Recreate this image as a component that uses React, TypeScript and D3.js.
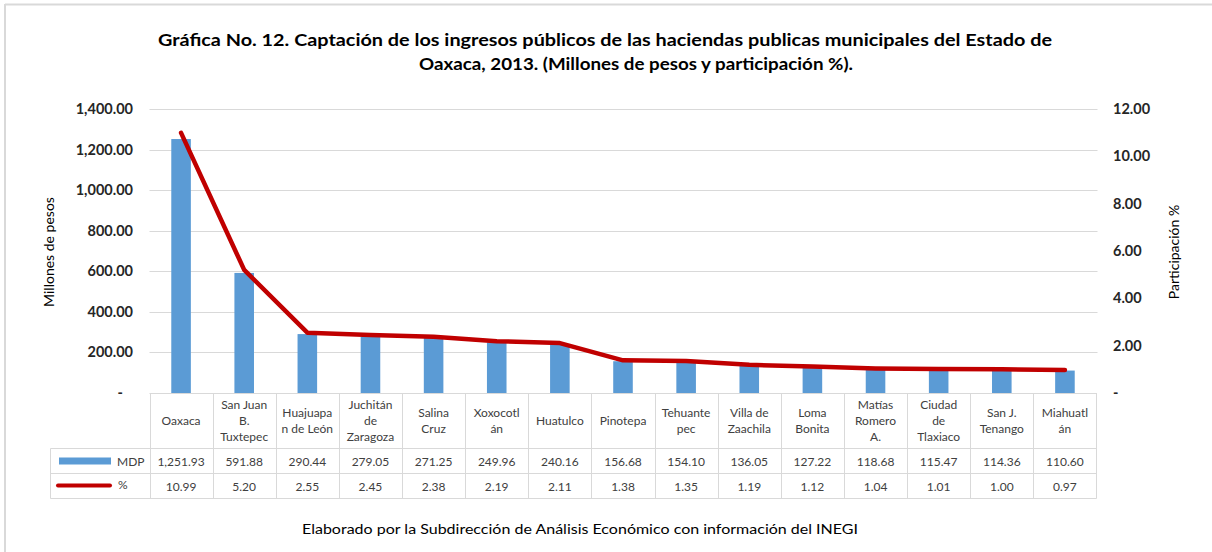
import React from 'react'
import { scaleBand, scaleLinear, line, format } from 'd3'

// datos
const municipios = [
    'Oaxaca', 'San Juan B. Tuxtepec', 'Huajuapan de León', 'Juchitán de Zaragoza', 'Salina Cruz',
    'Xoxocotlán', 'Huatulco', 'Pinotepa', 'Tehuantepec', 'Villa de Zaachila',
    'Loma Bonita', 'Matías Romero A.', 'Ciudad de Tlaxiaco', 'San J. Tenango', 'Miahuatlán',
]
// como se ve partido en las celdas de la tabla
const etiquetas = [
    ['Oaxaca'], ['San Juan', 'B.', 'Tuxtepec'], ['Huajuapa', 'n de León'], ['Juchitán', 'de', 'Zaragoza'],
    ['Salina', 'Cruz'], ['Xoxocotl', 'án'], ['Huatulco'], ['Pinotepa'], ['Tehuante', 'pec'],
    ['Villa de', 'Zaachila'], ['Loma', 'Bonita'], ['Matías', 'Romero', 'A.'], ['Ciudad', 'de', 'Tlaxiaco'],
    ['San J.', 'Tenango'], ['Miahuatl', 'án'],
]
const mdp = [1251.93, 591.88, 290.44, 279.05, 271.25, 249.96, 240.16, 156.68, 154.10, 136.05, 127.22, 118.68, 115.47, 114.36, 110.60]
const pct = [10.99, 5.20, 2.55, 2.45, 2.38, 2.19, 2.11, 1.38, 1.35, 1.19, 1.12, 1.04, 1.01, 1.00, 0.97]
const ticksIzq = [0, 200, 400, 600, 800, 1000, 1200, 1400]
const ticksDer = [0, 2, 4, 6, 8, 10, 12]

const fuente = 'Lato, "Open Sans", sans-serif'
const gris = '#d9d9d9'
const azul = '#5B9BD5'
const rojo = '#C00000'

const App = () => {
    const izq = 149.5, der = 1096.5
    const yCero = 393, yTope = 109
    const filaMdp = 448.5, filaPct = 473.5, filaFin = 498.5
    const tablaIzq = 50.5

    const x = scaleBand().domain(municipios).range([izq, der])
    const y = scaleLinear().domain([0, 1400]).range([yCero, yTope])
    const y2 = scaleLinear().domain([0, 12]).range([yCero, yTope])
    const fmt = format(',.2f')
    const anchoBarra = x.bandwidth() * 0.31

    const linea = line<number>()
        .x((d, i) => x(municipios[i])! + x.bandwidth() / 2)
        .y(d => y2(d))

    return (
        <svg width={1212} height={552} style={{ position: 'absolute', left: 0, top: 0, background: '#fff' }}
            fontFamily={fuente}>
            {/* marco */}
            <line x1={5} x2={1212} y1={4.5} y2={4.5} stroke={gris} strokeWidth={2} />
            <line x1={5} x2={5} y1={4} y2={552} stroke={gris} strokeWidth={2} />

            {/* título */}
            <text x={605} y={46} textAnchor="middle" fontWeight="bold" fontSize={17} fill="#000"
                textLength={894} lengthAdjust="spacingAndGlyphs">
                Gráfica No. 12. Captación de los ingresos públicos de las haciendas publicas municipales  del Estado de
            </text>
            <text x={636} y={70} textAnchor="middle" fontWeight="bold" fontSize={17} fill="#000"
                textLength={434} lengthAdjust="spacingAndGlyphs">
                Oaxaca, 2013. (Millones de pesos y participación %).
            </text>

            {/* rejilla */}
            {ticksIzq.filter(t => t > 0).map(t => (
                <line key={t} x1={izq} x2={der + 1} y1={Math.round(y(t)) + 0.5} y2={Math.round(y(t)) + 0.5}
                    stroke={gris} strokeWidth={1} />
            ))}

            {/* eje izquierdo */}
            {ticksIzq.map(t => (
                <text key={t} x={t === 0 ? 123 : 133} y={y(t) + 5} textAnchor="end" fontWeight="bold"
                    fontSize={14.5} fill="#262626">{t === 0 ? '-' : fmt(t)}</text>
            ))}
            <text transform={`translate(54,252) rotate(-90)`} textAnchor="middle" fontSize={14} fill="#000">
                Millones de pesos
            </text>

            {/* eje derecho */}
            {ticksDer.map(t => (
                <text key={t} x={1113} y={y2(t) + 5} textAnchor="start" fontWeight="bold"
                    fontSize={14.5} fill="#262626">{t === 0 ? '-' : fmt(t)}</text>
            ))}
            <text transform={`translate(1179,252) rotate(-90)`} textAnchor="middle" fontSize={14} fill="#000">
                Participación %
            </text>

            {/* barras */}
            {mdp.map((v, i) => (
                <rect key={i} x={x(municipios[i])! + (x.bandwidth() - anchoBarra) / 2} y={y(v)}
                    width={anchoBarra} height={yCero - y(v)} fill={azul} />
            ))}

            {/* línea */}
            <path d={linea(pct)!} fill="none" stroke={rojo} strokeWidth={4.5} strokeLinejoin="round" strokeLinecap="round" />

            {/* tabla */}
            <g stroke={gris} strokeWidth={1}>
                <line x1={izq} x2={der} y1={yCero + 0.5} y2={yCero + 0.5} />
                <line x1={tablaIzq} x2={der} y1={filaMdp} y2={filaMdp} />
                <line x1={tablaIzq} x2={der} y1={filaPct} y2={filaPct} />
                <line x1={tablaIzq} x2={der} y1={filaFin} y2={filaFin} />
                <line x1={tablaIzq} x2={tablaIzq} y1={filaMdp} y2={filaFin} />
                {municipios.map(m => (
                    <line key={m} x1={Math.round(x(m)!) + 0.5} x2={Math.round(x(m)!) + 0.5} y1={yCero} y2={filaFin} />
                ))}
                <line x1={der} x2={der} y1={yCero} y2={filaFin} />
            </g>
            {etiquetas.map((lineas, i) => {
                const cx = x(municipios[i])! + x.bandwidth() / 2
                const medio = (yCero + filaMdp) / 2
                const inicio = medio - ((lineas.length - 1) * 16) / 2
                return (
                    <text key={i} x={cx} textAnchor="middle" fontSize={12} fill="#404040">
                        {lineas.map((l, j) => (
                            <tspan key={j} x={cx} y={inicio + j * 16 + 4}>{l}</tspan>
                        ))}
                    </text>
                )
            })}
            {mdp.map((v, i) => (
                <text key={i} x={x(municipios[i])! + x.bandwidth() / 2} y={(filaMdp + filaPct) / 2 + 4.5}
                    textAnchor="middle" fontSize={12} fill="#404040">{fmt(v)}</text>
            ))}
            {pct.map((v, i) => (
                <text key={i} x={x(municipios[i])! + x.bandwidth() / 2} y={(filaPct + filaFin) / 2 + 4.5}
                    textAnchor="middle" fontSize={12} fill="#404040">{fmt(v)}</text>
            ))}

            {/* leyenda dentro de la tabla */}
            <rect x={59} y={457.5} width={52} height={7} fill={azul} />
            <text x={117} y={465.5} fontSize={12} fill="#404040">MDP</text>
            <line x1={58} x2={110} y1={485.5} y2={485.5} stroke={rojo} strokeWidth={4} strokeLinecap="round" />
            <text x={118} y={489} fontSize={12} fill="#404040">%</text>

            {/* fuente */}
            <text x={580} y={534} textAnchor="middle" fontSize={13.5} fill="#000"
                textLength={556} lengthAdjust="spacingAndGlyphs">
                Elaborado por la Subdirección de Análisis Económico con información del INEGI
            </text>
        </svg>
    )
}

export default App
